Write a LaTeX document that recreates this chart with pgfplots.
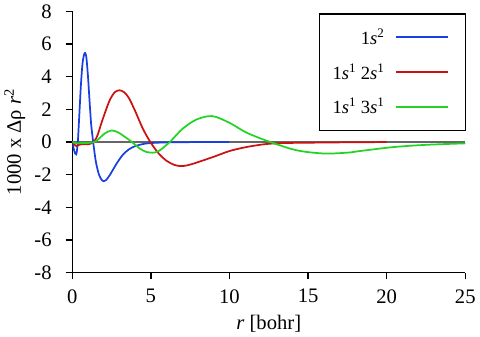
\documentclass[border=0pt]{standalone}
\usepackage{fontspec}
\setmainfont{Liberation Serif}
\usepackage{pgfplots}
\pgfplotsset{compat=1.18}
\definecolor{Blu}{HTML}{1A3FE0}
\definecolor{Rd}{HTML}{CC1111}
\definecolor{Grn}{HTML}{22D422}

\pgfplotstableread{
r v
0 0
0.05 -0.2
0.1 -0.45
0.18 -0.7
0.25 -0.75
0.3 -0.5
0.36 0.1
0.45 1.7
0.55 3.5
0.65 4.8
0.75 5.35
0.82 5.45
0.9 5.15
1.0 4.0
1.1 2.5
1.2 1.1
1.33 0
1.5 -1.2
1.7 -2.0
1.9 -2.35
2.0 -2.4
2.15 -2.33
2.4 -2.0
2.8 -1.35
3.2 -0.8
3.6 -0.45
4.0 -0.25
4.5 -0.12
5.0 -0.06
6 -0.02
7 -0.01
8 0
10 0
}\onesq

\pgfplotstableread{
r v
0 0
0.1 -0.12
0.2 -0.22
0.27 -0.24
0.4 -0.18
0.6 -0.13
0.8 -0.14
1.0 -0.14
1.16 -0.1
1.4 0.05
1.6 0.4
1.8 1.0
2.1 1.85
2.4 2.6
2.7 3.05
3.0 3.17
3.3 3.05
3.6 2.7
4.0 1.9
4.5 0.8
5.0 -0.05
5.5 -0.7
6.0 -1.15
6.5 -1.4
6.9 -1.47
7.3 -1.43
7.9 -1.26
9 -0.9
10 -0.55
11 -0.32
12 -0.16
12.6 -0.1
13.5 -0.06
15 -0.04
17 -0.02
20 0
}\twos

\pgfplotstableread{
r v
0 0
0.15 -0.05
0.3 -0.08
0.6 -0.06
1.0 -0.05
1.3 -0.02
1.5 0.05
1.8 0.3
2.1 0.55
2.5 0.71
2.9 0.6
3.3 0.35
3.8 0
4.3 -0.4
4.7 -0.6
5.1 -0.65
5.5 -0.55
6.2 0
7.0 0.8
7.9 1.38
8.9 1.59
10.0 1.18
11.1 0.57
12.6 0
14.3 -0.51
16.0 -0.7
17.5 -0.65
18.3 -0.55
20.4 -0.31
22.5 -0.17
25 -0.08
}\threes

\begin{document}
\begin{tikzpicture}
\begin{axis}[
  scale only axis,
  width=295.5pt,height=196.5pt,
  xmin=0,xmax=25,ymin=-8,ymax=8,
  xtick={0,5,...,25},ytick={-8,-6,...,8},
  xticklabels={0,5,10,15,20,25},
  yticklabels={-8,-6,-4,-2,0,2,4,6,8},
  axis x line*=bottom,axis y line*=left,
  axis line style={line width=1.1pt,-},
  tick align=outside,
  major tick length=5pt,
  tick style={line width=1.1pt,black},
  ticklabel style={font=\fontsize{15.5}{17}\selectfont},
  label style={font=\fontsize{15.5}{17}\selectfont},
  xticklabel style={yshift=-4pt},
  yticklabel style={xshift=-7pt},
  xlabel={\textit{r} [bohr]},
  ylabel={1000 x Δρ \textit{r}\textsuperscript{2}},
  xlabel style={yshift=-2pt},
  legend style={at={(0.627,0.992)},anchor=north west,
    font=\fontsize{14}{16}\selectfont,
    draw=black,line width=0.8pt,
    legend cell align=right,
    row sep=9pt,inner xsep=8pt,inner ysep=9pt},
  legend plot pos=right,
  legend image code/.code={\path (0cm,0cm) (1.74cm,0cm);
    \draw[#1,line width=1.5pt] (0.22cm,0cm) -- (1.59cm,0cm);},
]
\addplot[gray!80!black,line width=0.9pt,forget plot] coordinates {(0,0) (25,0)};
\addplot[Blu,line width=1.3pt,smooth] table[x=r,y=v] {\onesq};
\addplot[Rd,line width=1.3pt,smooth] table[x=r,y=v] {\twos};
\addplot[Grn,line width=1.3pt,smooth] table[x=r,y=v] {\threes};
\legend{1\textit{s}\textsuperscript{2},
  1\textit{s}\textsuperscript{1} 2\textit{s}\textsuperscript{1},
  1\textit{s}\textsuperscript{1} 3\textit{s}\textsuperscript{1}}
\end{axis}
\end{tikzpicture}
\end{document}
